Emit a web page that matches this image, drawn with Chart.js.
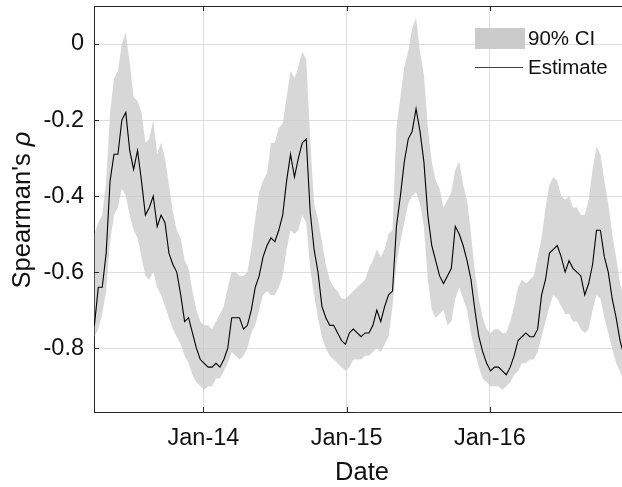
<!DOCTYPE html>
<html>
<head>
<meta charset="utf-8">
<script src="https://cdn.jsdelivr.net/npm/chart.js@4.4.1/dist/chart.umd.min.js"></script>
<style>
  html, body { margin: 0; padding: 0; background: #fff; }
  canvas { display: block; }
</style>
</head>
<body>
<canvas id="rhoChart" width="622" height="487"></canvas>
<script>
// rolling Spearman correlation, one sample every 10 days from 29 Mar 2013
const firstDate = '2013-03-29';
const stepDays = 10;

const estimate = [
  -0.74, -0.64, -0.64, -0.55, -0.36, -0.29, -0.29, -0.20, -0.18, -0.28,
  -0.33, -0.28, -0.36, -0.45, -0.43, -0.40, -0.48, -0.45, -0.47, -0.55,
  -0.58, -0.60, -0.66, -0.73, -0.72, -0.76, -0.80, -0.83, -0.84, -0.85,
  -0.85, -0.84, -0.85, -0.83, -0.80, -0.72, -0.72, -0.72, -0.75, -0.74,
  -0.70, -0.64, -0.61, -0.56, -0.53, -0.51, -0.52, -0.49, -0.45, -0.36,
  -0.29, -0.35, -0.30, -0.26, -0.25, -0.44, -0.54, -0.60, -0.69, -0.72,
  -0.74, -0.74, -0.76, -0.78, -0.79, -0.76, -0.75, -0.76, -0.77, -0.76,
  -0.76, -0.74, -0.70, -0.73, -0.69, -0.66, -0.65, -0.48, -0.40, -0.31,
  -0.25, -0.23, -0.17, -0.23, -0.31, -0.45, -0.53, -0.57, -0.61, -0.63,
  -0.61, -0.59, -0.48, -0.50, -0.53, -0.57, -0.62, -0.70, -0.77, -0.81,
  -0.84, -0.86, -0.85, -0.85, -0.86, -0.87, -0.85, -0.82, -0.78, -0.77,
  -0.76, -0.77, -0.77, -0.75, -0.66, -0.62, -0.55, -0.54, -0.53, -0.56,
  -0.60, -0.57, -0.59, -0.60, -0.61, -0.66, -0.63, -0.58, -0.49, -0.49,
  -0.56, -0.60, -0.67, -0.72, -0.78, -0.82
];

const ciUpper = [
  -0.50, -0.47, -0.45, -0.36, -0.18, -0.09, -0.07,  0.00,  0.03, -0.05,
  -0.14, -0.15, -0.18, -0.26, -0.25, -0.20, -0.29, -0.26, -0.30, -0.37,
  -0.44, -0.49, -0.51, -0.57, -0.59, -0.65, -0.70, -0.73, -0.74, -0.74,
  -0.75, -0.73, -0.71, -0.69, -0.64, -0.60, -0.60, -0.61, -0.61, -0.60,
  -0.54, -0.46, -0.39, -0.36, -0.34, -0.26, -0.26, -0.22, -0.21, -0.14,
  -0.07, -0.09, -0.06, -0.02, -0.04, -0.25, -0.42, -0.46, -0.52, -0.58,
  -0.62, -0.64, -0.65, -0.67, -0.67, -0.66, -0.65, -0.64, -0.63, -0.62,
  -0.59, -0.57, -0.54, -0.56, -0.54, -0.50, -0.49, -0.22, -0.14, -0.06,
  -0.02,  0.04,  0.07, -0.02, -0.08, -0.22, -0.31, -0.36, -0.38, -0.43,
  -0.41, -0.39, -0.33, -0.31, -0.37, -0.41, -0.50, -0.60, -0.67, -0.72,
  -0.75, -0.76, -0.75, -0.75, -0.76, -0.76, -0.73, -0.69, -0.64, -0.62,
  -0.63, -0.62, -0.61, -0.56, -0.51, -0.43, -0.37, -0.35, -0.36, -0.40,
  -0.41, -0.40, -0.43, -0.43, -0.45, -0.45, -0.41, -0.33, -0.27, -0.29,
  -0.36, -0.42, -0.50, -0.56, -0.63, -0.67
];

const ciLower = [
  -0.77, -0.75, -0.71, -0.65, -0.52, -0.45, -0.43, -0.38, -0.40, -0.45,
  -0.49, -0.51, -0.56, -0.61, -0.62, -0.60, -0.64, -0.66, -0.69, -0.72,
  -0.75, -0.77, -0.79, -0.82, -0.84, -0.87, -0.89, -0.90, -0.91, -0.90,
  -0.90, -0.88, -0.88, -0.86, -0.84, -0.81, -0.82, -0.83, -0.82, -0.80,
  -0.76, -0.74, -0.70, -0.66, -0.65, -0.66, -0.66, -0.64, -0.61, -0.54,
  -0.49, -0.50, -0.49, -0.45, -0.47, -0.59, -0.66, -0.72, -0.77, -0.80,
  -0.82, -0.83, -0.84, -0.85, -0.86, -0.85, -0.83, -0.83, -0.83, -0.82,
  -0.82, -0.81, -0.80, -0.81, -0.79, -0.77, -0.69, -0.58, -0.52, -0.47,
  -0.42, -0.40, -0.39, -0.42, -0.48, -0.62, -0.70, -0.72, -0.71, -0.70,
  -0.74, -0.73, -0.67, -0.64, -0.67, -0.70, -0.76, -0.81, -0.85, -0.88,
  -0.89, -0.90, -0.90, -0.90, -0.91, -0.90, -0.89, -0.87, -0.86, -0.84,
  -0.84, -0.83, -0.83, -0.81, -0.77, -0.73, -0.69, -0.66, -0.67, -0.69,
  -0.71, -0.71, -0.73, -0.73, -0.75, -0.76, -0.75, -0.70, -0.66, -0.67,
  -0.72, -0.76, -0.80, -0.84, -0.86, -0.89
];

const xTickDates = ['2014-01-01', '2015-01-01', '2016-01-01'];
const xTickLabels = ['Jan-14', 'Jan-15', 'Jan-16'];
const yTicks = [-0.8, -0.6, -0.4, -0.2, 0];

// x axis runs in days counted from 1 Jan 2014
const DAY = 86400000;
const origin = Date.parse('2014-01-01');
const toDay = s => Math.round((Date.parse(s) - origin) / DAY);
const day0 = toDay(firstDate);
const xDays = estimate.map((_, i) => day0 + i * stepDays);
const xTickDays = xTickDates.map(toDay);

const pts = arr => arr.map((v, i) => ({ x: xDays[i], y: v }));

const FONT = "'Liberation Sans', Arial, Helvetica, sans-serif";
const INK = '#262626';
const GRID = '#dedede';
const BAND = 'rgba(200,200,200,0.72)';

const frame = {
  id: 'frame',
  afterDatasetsDraw(chart) {
    const { ctx, chartArea: a, scales } = chart;
    ctx.save();
    ctx.strokeStyle = INK;
    ctx.lineWidth = 1;
    ctx.beginPath();
    // box top edge
    ctx.moveTo(a.left, a.top + 0.5);
    ctx.lineTo(a.right, a.top + 0.5);
    // inward tick marks
    yTicks.forEach(v => {
      const y = Math.round(scales.y.getPixelForValue(v)) + 0.5;
      ctx.moveTo(a.left, y);
      ctx.lineTo(a.left + 5, y);
    });
    xTickDays.forEach(d => {
      const x = Math.round(scales.x.getPixelForValue(d)) + 0.5;
      ctx.moveTo(x, a.bottom);
      ctx.lineTo(x, a.bottom - 5);
      ctx.moveTo(x, a.top);
      ctx.lineTo(x, a.top + 5);
    });
    ctx.stroke();

    // legend, no box
    ctx.fillStyle = '#cbcbcb';
    ctx.fillRect(475, 28, 50, 21);
    ctx.strokeStyle = '#444';
    ctx.beginPath();
    ctx.moveTo(475, 67.5);
    ctx.lineTo(523, 67.5);
    ctx.stroke();
    ctx.fillStyle = '#111';
    ctx.font = '20.5px ' + FONT;
    ctx.textAlign = 'left';
    ctx.textBaseline = 'middle';
    ctx.fillText('90% CI', 528, 39.5);
    ctx.fillText('Estimate', 528, 68);
    ctx.restore();
  },
  afterDraw(chart) {
    const { ctx } = chart;
    ctx.save();
    ctx.fillStyle = '#111';
    ctx.textBaseline = 'middle';
    ctx.textAlign = 'center';
    ctx.font = '25.5px ' + FONT;
    ctx.fillText('Date', 362, 473);

    // y title with an italic rho
    ctx.translate(23, 210);
    ctx.rotate(-Math.PI / 2);
    const plain = "Spearman's ";
    const upright = '25.5px ' + FONT;
    const italic = 'italic 25.5px ' + FONT;
    ctx.font = upright;
    const w1 = ctx.measureText(plain).width;
    ctx.font = italic;
    const w2 = ctx.measureText('ρ').width;
    ctx.textAlign = 'left';
    ctx.font = upright;
    ctx.fillText(plain, -(w1 + w2) / 2, 0);
    ctx.font = italic;
    ctx.fillText('ρ', -(w1 + w2) / 2 + w1, 0);
    ctx.restore();
  }
};

new Chart(document.getElementById('rhoChart'), {
  type: 'line',
  data: {
    datasets: [
      {
        label: '90% CI',
        data: pts(ciUpper),
        borderColor: 'transparent',
        borderWidth: 0,
        pointRadius: 0,
        backgroundColor: BAND,
        fill: '+1',
        order: 2
      },
      {
        label: 'lower',
        data: pts(ciLower),
        borderColor: 'transparent',
        borderWidth: 0,
        pointRadius: 0,
        fill: false,
        order: 2
      },
      {
        label: 'Estimate',
        data: pts(estimate),
        borderColor: '#000',
        borderWidth: 1.1,
        pointRadius: 0,
        tension: 0,
        fill: false,
        order: 1
      }
    ]
  },
  options: {
    responsive: false,
    animation: false,
    devicePixelRatio: 1,
    layout: { padding: { top: 6, right: 0, bottom: 0, left: 0 } },
    plugins: { legend: { display: false }, tooltip: { enabled: false } },
    scales: {
      x: {
        type: 'linear',
        min: -279,
        max: 1067,
        afterBuildTicks(scale) {
          scale.ticks = xTickDays.map(v => ({ value: v }));
        },
        afterFit(scale) {
          scale.height = 75;
          scale.paddingLeft = 0;
          scale.paddingRight = 0;
        },
        grid: { color: GRID, drawTicks: false },
        border: { color: INK, width: 1 },
        ticks: {
          autoSkip: false,
          maxRotation: 0,
          padding: 12,
          color: '#111',
          font: { family: FONT, size: 23.5 },
          callback: v => xTickLabels[xTickDays.indexOf(v)]
        }
      },
      y: {
        min: -0.968,
        max: 0.1,
        afterBuildTicks(scale) {
          scale.ticks = yTicks.map(v => ({ value: v }));
        },
        afterFit(scale) {
          scale.width = 94;
          scale.paddingTop = 0;
          scale.paddingBottom = 0;
        },
        grid: { color: GRID, drawTicks: false },
        border: { color: INK, width: 1 },
        ticks: {
          padding: 10,
          color: '#111',
          font: { family: FONT, size: 23.5 },
          callback: v => String(v)
        }
      }
    }
  },
  plugins: [frame]
});
</script>
</body>
</html>
